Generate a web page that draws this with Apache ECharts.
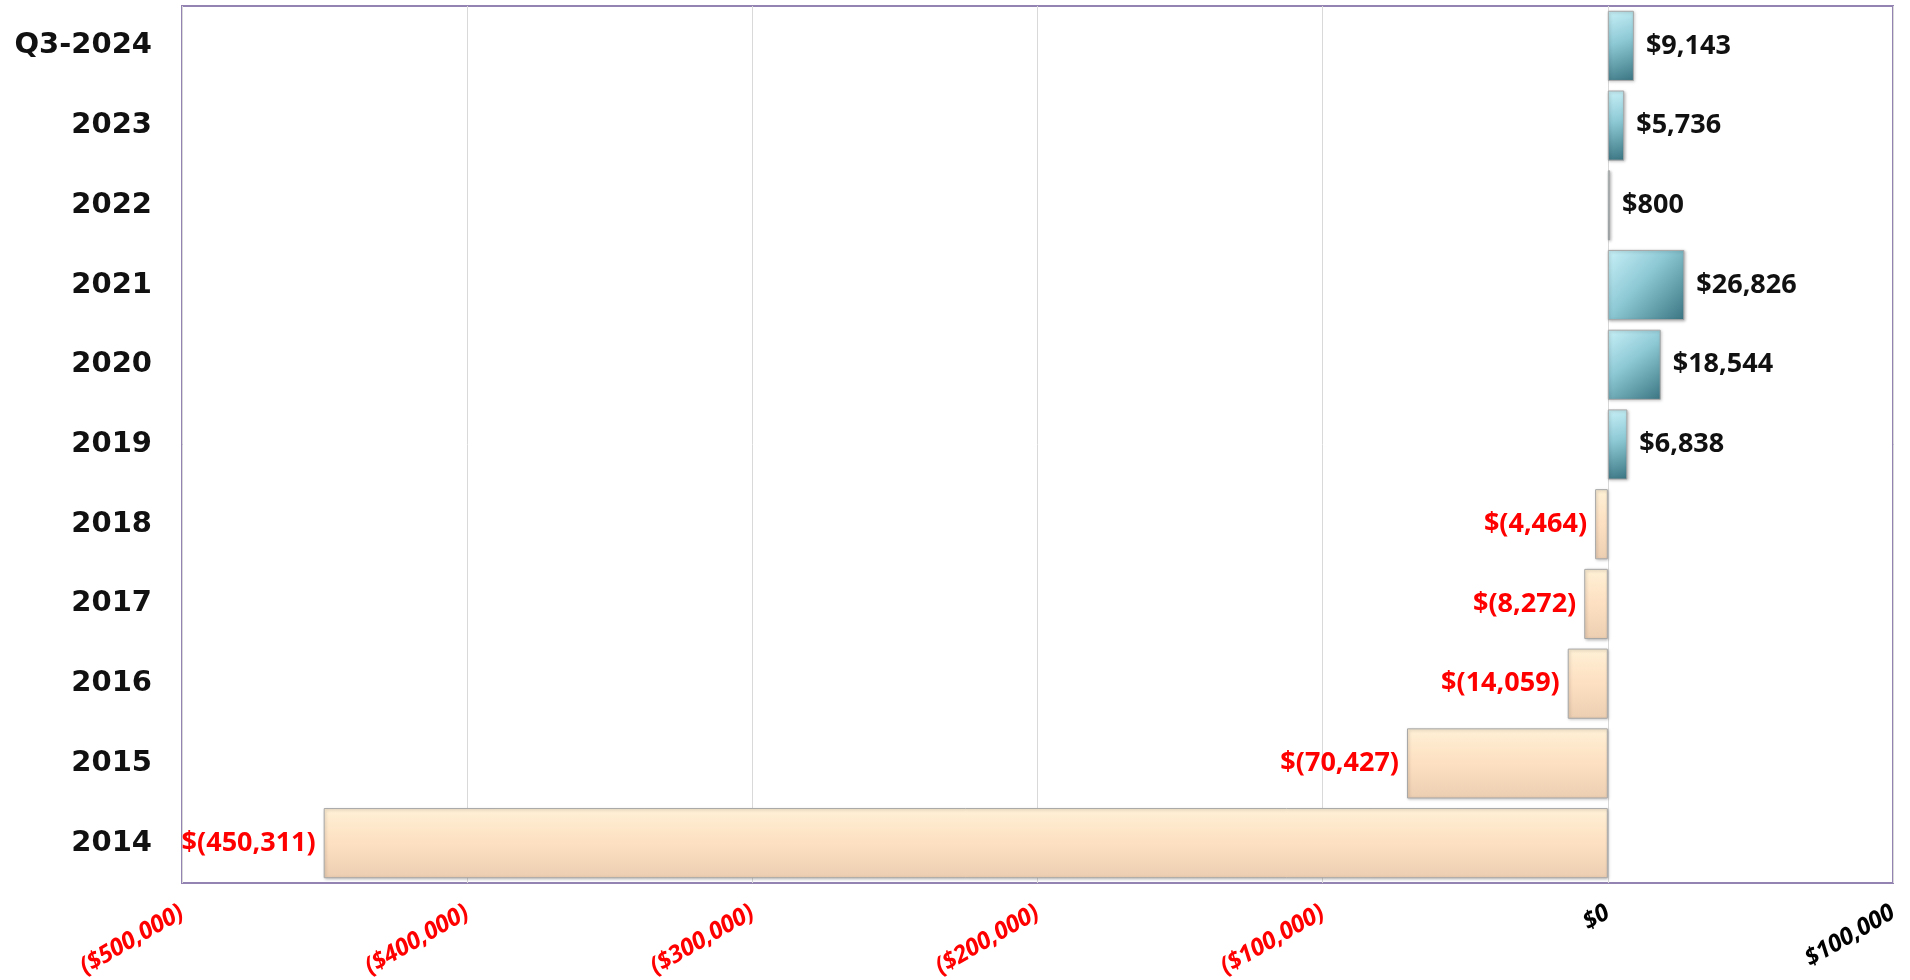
<!DOCTYPE html>
<html>
<head>
<meta charset="utf-8">
<style>
  html, body { margin: 0; padding: 0; background: #fff; }
  #chart { width: 1910px; height: 980px; }
</style>
<script src="https://cdn.jsdelivr.net/npm/echarts@6/dist/echarts.min.js"></script>
</head>
<body>
<div id="chart"></div>
<script>
  // categories from bottom to top
  var years = ['2014', '2015', '2016', '2017', '2018', '2019', '2020', '2021', '2022', '2023', 'Q3-2024'];
  var amounts = [-450311, -70427, -14059, -8272, -4464, 6838, 18544, 26826, 800, 5736, 9143];
  var axisTicks = [-500000, -400000, -300000, -200000, -100000, 0, 100000];

  // $1,234 / $(1,234)
  function money(v) {
    var s = Math.abs(v).toLocaleString('en-US');
    return v < 0 ? '$(' + s + ')' : '$' + s;
  }

  var posFill = new echarts.graphic.LinearGradient(0, 0, 1, 1, [
    {offset: 0, color: '#c9f1f8'},
    {offset: 0.45, color: '#8cc8d4'},
    {offset: 1, color: '#3a7482'}
  ]);
  var negFill = new echarts.graphic.LinearGradient(0, 0, 0, 1, [
    {offset: 0, color: '#fff1d6'},
    {offset: 0.5, color: '#fddfc1'},
    {offset: 1, color: '#ecceb2'}
  ]);

  var barData = amounts.map(function (v) {
    var neg = v < 0;
    return {
      value: v,
      itemStyle: {color: neg ? negFill : posFill},
      label: {
        position: neg ? 'left' : 'right',
        distance: neg ? 8 : 12,
        color: neg ? '#ff0000' : '#111111'
      }
    };
  });

  var chart = echarts.init(document.getElementById('chart'));
  chart.setOption({
    animation: false,
    grid: {
      left: 182, right: 17, top: 6, bottom: 97,
      show: true,
      borderColor: '#9283b3',
      borderWidth: 2,
      containLabel: false,
      outerBoundsMode: 'none'
    },
    xAxis: {
      type: 'value',
      min: axisTicks[0],
      max: axisTicks[axisTicks.length - 1],
      interval: 100000,
      axisLine: {show: false},
      axisTick: {show: false},
      splitLine: {lineStyle: {color: '#d9d9d9', width: 1}},
      axisLabel: {
        rotate: 30,
        margin: 28,
        fontFamily: 'Noto Sans',
        fontWeight: 'bold',
        fontStyle: 'italic',
        fontSize: 24,
        color: function (v) { return v < 0 ? '#ff0000' : '#000000'; },
        formatter: function (v) {
          var s = '$' + Math.abs(v).toLocaleString('en-US');
          return v < 0 ? '(' + s + ')' : s;
        }
      }
    },
    yAxis: {
      type: 'category',
      data: years,
      axisLine: {show: false},
      axisTick: {show: false},
      axisLabel: {
        margin: 30,
        fontFamily: 'DejaVu Sans',
        fontWeight: 'bold',
        fontSize: 29,
        color: '#111111'
      }
    },
    series: [{
      type: 'bar',
      data: barData,
      barCategoryGap: '12%',
      itemStyle: {
        borderColor: '#a8a8a8',
        borderWidth: 1,
        shadowColor: 'rgba(0,0,0,0.25)',
        shadowBlur: 3,
        shadowOffsetX: 1,
        shadowOffsetY: 1
      },
      label: {
        show: true,
        fontFamily: 'Noto Sans',
        fontWeight: 'bold',
        fontSize: 27,
        formatter: function (p) { return money(p.value); }
      }
    }]
  });
</script>
</body>
</html>
